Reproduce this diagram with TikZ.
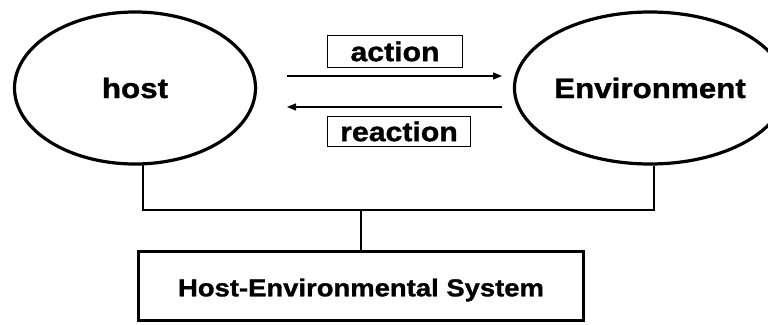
\documentclass[tikz,border=0pt]{standalone}
\usepackage{fontspec}
\newfontfamily\labfont[FakeStretch=1.12,FakeBold=1.2]{Liberation Sans}
\usetikzlibrary{shapes.geometric,arrows.meta}
\begin{document}
\begin{tikzpicture}[x=1pt,y=-1pt,
  party/.style={ellipse,draw,line width=3.2pt,inner sep=0pt,
    font=\labfont\bfseries\fontsize{28}{30}\selectfont},
  tag/.style={draw,line width=1.5pt,inner sep=0pt,
    font=\labfont\bfseries\fontsize{27}{29}\selectfont},
  link/.style={line width=1.3pt},
  flow/.style={line width=1.4pt,-{Triangle[length=9pt,width=7pt]}},
  sysbox/.style={draw,line width=3pt,minimum width=445pt,minimum height=69pt,inner sep=0pt},
  systext/.style={font=\labfont\bfseries\fontsize{24.5}{27}\selectfont,inner sep=0pt}]
\useasboundingbox (0,0) rectangle (768,324);

% the two interacting parties
\node[party,minimum width=241pt,minimum height=152pt] (host) at (135,88) {host};
\node[party,minimum width=233pt,minimum height=152pt] (env) at (650,88) {Environment};

% action / reaction exchange
\coordinate (a1) at (287,76);
\coordinate (a2) at (502,76);
\coordinate (r1) at (502,107);
\coordinate (r2) at (287,107);
\draw[flow] (a1) -- (a2);
\draw[flow] (r1) -- (r2);
\node[tag,minimum width=135pt,minimum height=32pt] (act) at (395,51.5) {action};
\node[tag,minimum width=143pt,minimum height=30pt] (react) at (399,131.5) {reaction};

% combined system
\node[sysbox] (sys) at (361,286) {};
\node[systext] (systxt) at ([yshift=-4pt]sys.center) {Host-Environmental System};

% bus joining both parties to the system
\coordinate (bus) at (361,210);
\draw[link] (host.-84) |- (bus) -| (env.-87);
\draw[link] (bus) -- (sys.north);
\end{tikzpicture}
\end{document}
